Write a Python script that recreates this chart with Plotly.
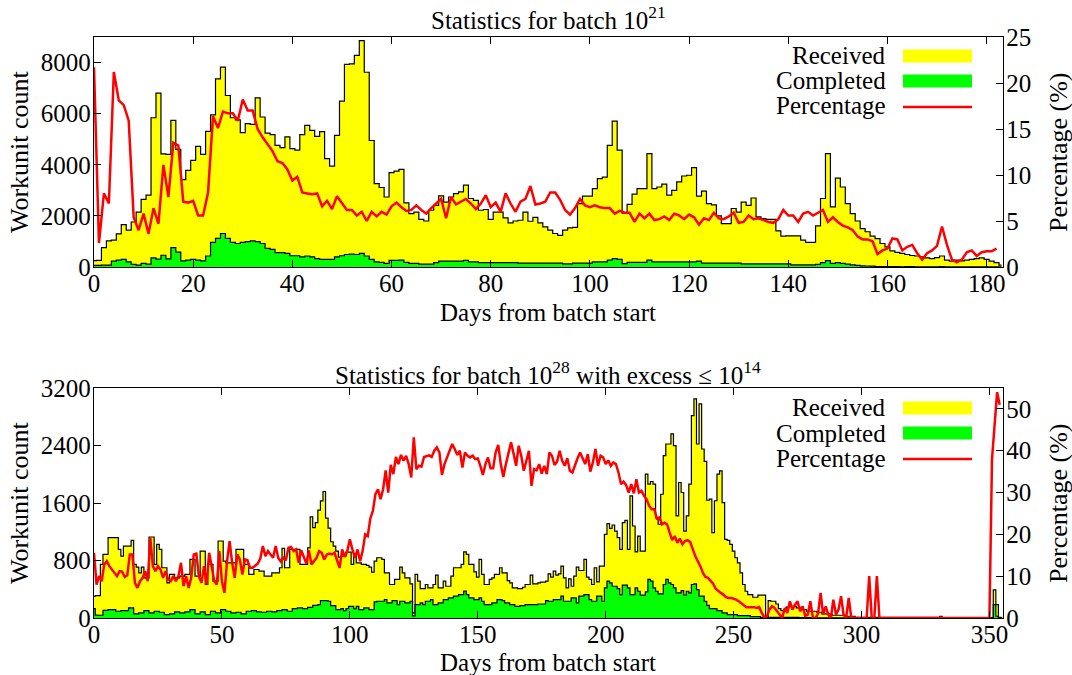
import plotly.graph_objects as go
from plotly.subplots import make_subplots

# ---------------- Batch 10^21 (top) ----------------
top_received = [
    250, 260, 760, 1020, 1050, 1300, 1660, 1440, 1760, 2150,
    2650, 2810, 5840, 6800, 4430, 4410, 5740, 4600, 3420, 3780,
    4170, 4720, 4410, 5310, 5950, 7360, 7820, 6710, 5840, 5760,
    5260, 5610, 5580, 6620, 5870, 5240, 5180, 4760, 4670, 5090,
    4630, 4570, 5180, 5540, 5350, 5110, 5300, 4240, 3950, 5150,
    6490, 7930, 7950, 8280, 8860, 7620, 4950, 3260, 3110, 2740,
    3690, 3750, 3820, 2510, 2090, 2150, 1860, 1800, 2220, 2410,
    2780, 2540, 2740, 2870, 2940, 3200, 2680, 2610, 2220, 2250,
    1860, 2150, 2150, 1920, 1730, 1800, 1830, 2150, 1790, 1940,
    1730, 1570, 1440, 1310, 1240, 1440, 1530, 1550, 2480, 2770,
    2770, 3070, 3460, 3520, 4760, 5710, 4570, 2110, 2450, 2850,
    3070, 3070, 4440, 3070, 3130, 3240, 2810, 3000, 3330, 3560,
    3590, 3890, 2770, 2970, 2480, 2430, 2000, 1700, 1700, 2290,
    2150, 2540, 2410, 2700, 1960, 1890, 1860, 1860, 1410, 1210,
    1220, 1220, 1220, 1050, 960, 960, 1610, 2680, 4440, 2350,
    3480, 3130, 2480, 2090, 1800, 1500, 1380, 1210, 1110, 920,
    790, 630, 570, 530, 490, 450, 430, 400, 360, 330,
    370, 430, 270, 230, 270, 240, 270, 300, 330, 360,
    300, 230, 170, 70,
]
top_completed = [
    60, 60, 70, 70, 230, 270, 300, 200, 100, 70,
    140, 110, 360, 310, 460, 320, 760, 580, 240, 270,
    300, 270, 240, 430, 960, 1120, 1310, 1120, 960, 920,
    960, 990, 1020, 990, 920, 730, 690, 560, 560, 530,
    440, 440, 400, 430, 400, 330, 300, 300, 300, 400,
    440, 490, 500, 490, 530, 430, 300, 200, 180, 140,
    260, 260, 270, 180, 140, 140, 110, 110, 110, 170,
    230, 230, 230, 230, 230, 260, 200, 200, 170, 170,
    170, 170, 170, 170, 170, 170, 150, 150, 150, 150,
    150, 150, 150, 150, 150, 120, 120, 150, 150, 150,
    150, 200, 200, 200, 270, 330, 300, 130, 180, 180,
    180, 180, 270, 200, 200, 200, 200, 200, 200, 200,
    200, 200, 230, 150, 150, 150, 150, 150, 150, 150,
    150, 120, 120, 120, 120, 120, 120, 120, 120, 120,
    120, 80, 80, 80, 80, 80, 100, 170, 250, 140,
    170, 140, 110, 85, 60, 45, 40, 35, 15, 17,
    16, 20, 17, 10, 11, 11, 6, 3, 5, 6,
    8, 19, 6, 2, 1, 2, 4, 5, 4, 6,
    5, 4, 3, 2,
]
top_percentage = [
    21.7, 2.6, 8.0, 6.9, 21.2, 18.1, 17.6, 15.9, 5.4, 4.0,
    5.8, 3.6, 6.4, 4.7, 11.1, 7.6, 13.5, 13.2, 7.1, 7.0,
    7.2, 5.6, 5.6, 8.1, 16.4, 15.1, 16.9, 16.7, 16.7, 15.9,
    18.2, 17.0, 17.0, 15.0, 14.1, 13.4, 12.6, 11.5, 11.3, 10.6,
    9.4, 9.8, 8.1, 8.0, 7.9, 8.0, 6.6, 7.2, 6.3, 7.7,
    6.9, 6.2, 6.2, 5.6, 6.0, 5.0, 6.0, 5.5, 6.0, 5.7,
    6.6, 7.0, 6.5, 6.1, 6.2, 6.7, 6.2, 5.8, 6.4, 6.9,
    7.4, 5.3, 7.6, 6.8, 7.1, 7.4, 6.9, 6.3, 6.9, 7.8,
    6.5, 7.0, 6.0, 8.0, 6.9, 6.0, 7.1, 7.4, 8.8, 6.8,
    6.9, 7.1, 8.1, 8.1, 7.3, 6.2, 5.7, 6.4, 7.4, 6.7,
    6.5, 6.7, 6.5, 6.4, 6.4, 5.8, 6.1, 5.9, 5.9, 4.9,
    5.8, 5.3, 5.8, 5.1, 5.2, 5.5, 5.1, 5.8, 5.6, 5.2,
    5.7, 5.4, 4.6, 5.3, 5.1, 5.9, 5.3, 5.2, 5.5, 5.9,
    4.8, 4.9, 5.6, 5.2, 5.3, 5.1, 4.9, 4.8, 5.2, 6.2,
    5.6, 5.6, 4.9, 5.8, 6.0, 5.6, 5.9, 6.2, 4.9, 5.4,
    4.9, 4.5, 4.3, 4.0, 3.3, 3.0, 3.0, 2.8, 1.4, 1.8,
    2.0, 3.1, 3.0, 1.8, 2.2, 2.4, 1.5, 0.8, 1.5, 1.8,
    2.3, 4.4, 2.4, 0.8, 0.5, 0.8, 1.6, 1.8, 1.2, 1.6,
    1.7, 1.7, 2.0,
]

# ---------------- Batch 10^28, excess <= 10^14 (bottom) ----------------
bot_received = [
    300, 310, 310, 745, 885, 885, 1117, 1117, 1117, 1117,
    954, 861, 1000, 1000, 1000, 1080, 745, 708, 629, 708,
    559, 559, 1127, 1127, 745, 1024, 954, 699, 699, 489,
    606, 606, 559, 559, 582, 582, 606, 606, 815, 815,
    582, 582, 931, 931, 466, 745, 745, 512, 512, 1071,
    1071, 792, 768, 768, 768, 768, 954, 954, 954, 745,
    745, 606, 606, 675, 675, 652, 652, 582, 582, 582,
    629, 629, 629, 699, 968, 699, 699, 954, 954, 954,
    954, 745, 745, 745, 977, 1406, 1257, 1326, 1500, 1629,
    1760, 1390, 1250, 1061, 1000, 931, 847, 861, 861, 917,
    917, 745, 885, 768, 768, 745, 745, 731, 708, 638,
    792, 838, 838, 815, 629, 629, 466, 466, 536, 536,
    708, 629, 559, 559, 475, 70, 606, 512, 410, 410,
    466, 419, 419, 466, 596, 419, 419, 512, 442, 442,
    582, 699, 699, 699, 745, 921, 885, 745, 745, 643,
    568, 815, 606, 466, 466, 536, 559, 606, 606, 699,
    629, 629, 521, 489, 419, 419, 410, 410, 428, 466,
    466, 596, 475, 475, 489, 498, 498, 512, 615, 568,
    652, 596, 615, 722, 559, 419, 545, 442, 582, 708,
    661, 661, 815, 568, 536, 466, 699, 503, 722, 722,
    1164, 1313, 1248, 1294, 1210, 1117, 954, 1326, 1359, 954,
    1699, 1280, 921, 1140, 931, 931, 2001, 1862, 1899, 1862,
    1397, 1304, 1722, 2258, 2421, 2421, 2561, 2397, 1420, 1885,
    1746, 1210, 1420, 1862, 2816, 3049, 2421, 2979, 2351, 2179,
    1638, 1653, 1187, 1631, 2001, 2048, 1606, 1094, 1080, 1024,
    931, 838, 768, 629, 466, 372, 326, 326, 289, 289,
    317, 317, 317, 9, 242, 233, 233, 195, 131, 103,
    103, 150, 163, 163, 163, 140, 140, 117, 117, 94,
    94, 94, 94, 80, 80, 57, 57, 57, 57, 38,
    38, 38, 38, 38, 24, 24, 24, 24, 10, 10,
    10, 10, 10, 10, 10, 10, 10, 10, 10, 10,
    10, 10, 10, 10, 10, 10, 10, 10, 10, 10,
    10, 10, 10, 10, 10, 10, 10, 10, 10, 10,
    10, 24, 5, 5, 5, 5, 5, 5, 5, 5,
    5, 5, 5, 5, 5, 5, 5, 5, 5, 5,
    5, 5, 390, 186, 10, 5,
]
bot_completed = [
    130, 40, 38, 38, 107, 107, 117, 117, 117, 94,
    94, 103, 103, 103, 140, 140, 57, 57, 70, 70,
    103, 103, 70, 70, 94, 94, 80, 80, 47, 47,
    57, 57, 84, 84, 70, 70, 84, 84, 117, 117,
    57, 57, 84, 84, 47, 47, 94, 94, 70, 70,
    117, 117, 94, 94, 70, 70, 80, 80, 57, 57,
    94, 94, 103, 103, 84, 84, 80, 80, 94, 94,
    84, 84, 103, 103, 117, 117, 94, 94, 131, 131,
    140, 140, 131, 131, 149, 149, 177, 177, 186, 242,
    242, 242, 233, 172, 172, 117, 117, 131, 103, 131,
    163, 163, 131, 163, 117, 117, 140, 140, 117, 117,
    224, 233, 233, 233, 256, 210, 210, 242, 242, 186,
    233, 233, 210, 210, 233, 30, 186, 186, 210, 186,
    233, 233, 256, 186, 186, 210, 210, 256, 256, 279,
    279, 303, 303, 326, 326, 373, 326, 279, 279, 256,
    256, 279, 233, 186, 186, 186, 210, 210, 256, 256,
    242, 210, 210, 186, 186, 163, 163, 172, 172, 186,
    186, 186, 186, 186, 195, 195, 195, 242, 233, 233,
    256, 256, 256, 303, 233, 233, 233, 279, 279, 210,
    303, 303, 326, 326, 256, 233, 233, 303, 303, 233,
    419, 512, 489, 442, 442, 410, 326, 456, 456, 419,
    326, 326, 419, 372, 317, 317, 363, 536, 512, 419,
    372, 335, 335, 466, 536, 489, 466, 419, 349, 349,
    382, 317, 372, 349, 466, 475, 396, 303, 303, 233,
    177, 131, 131, 131, 103, 103, 70, 70, 47, 47,
    47, 47, 33, 33, 33, 33, 33, 19, 19, 19,
    19, 10, 10, 10, 10, 10, 10, 10, 10, 10,
    10, 10, 10, 10, 10, 10, 5, 5, 5, 5,
    5, 3, 3, 3, 3, 3, 3, 3, 3, 3,
    3, 1, 1, 1, 1, 1, 1, 1, 1, 1,
    1, 1, 1, 1, 1, 1, 1, 1, 1, 1,
    1, 1, 1, 1, 1, 1, 1, 1, 1, 1,
    1, 1, 1, 1, 1, 1, 1, 1, 1, 1,
    1, 1, 1, 1, 1, 1, 1, 1, 1, 1,
    1, 1, 1, 1, 1, 1, 1, 1, 1, 1,
    1, 1, 186, 24, 2, 0,
]
bot_percentage = [
    15.6, 8.0, 10.0, 8.8, 12.8, 13.6, 12.4, 11.6, 10.6, 10.0,
    11.2, 11.1, 9.8, 10.2, 15.2, 15.2, 8.4, 7.2, 8.8, 9.6,
    11.2, 8.8, 19.2, 12.4, 11.2, 12.4, 11.6, 9.6, 11.2, 9.2,
    8.8, 10.0, 8.8, 10.0, 13.2, 7.6, 10.0, 7.2, 9.6, 15.2,
    15.4, 10.0, 8.4, 12.4, 8.0, 15.6, 12.4, 8.8, 8.0, 16.0,
    8.8, 6.0, 13.6, 18.4, 13.2, 9.6, 15.2, 14.0, 10.4, 14.0,
    13.8, 12.0, 12.0, 12.4, 13.0, 14.2, 17.2, 14.8, 16.0, 15.2,
    14.4, 17.2, 14.4, 13.5, 14.4, 13.8, 16.8, 17.0, 16.0, 16.4,
    13.2, 16.2, 14.4, 13.0, 16.2, 12.8, 13.6, 14.4, 16.0, 15.6,
    14.0, 15.2, 15.4, 15.2, 15.6, 13.6, 12.0, 16.4, 14.6, 16.0,
    18.8, 16.4, 14.4, 16.4, 13.6, 16.0, 20.0, 19.6, 23.8, 25.6,
    29.6, 30.8, 28.4, 30.8, 35.3, 30.0, 36.6, 34.4, 38.5, 36.8,
    39.0, 37.6, 38.8, 36.8, 33.6, 43.2, 35.6, 36.4, 36.2, 38.5,
    38.8, 38.9, 38.5, 40.0, 40.8, 39.6, 34.2, 36.8, 38.4, 40.0,
    41.6, 40.4, 39.0, 40.0, 36.0, 39.6, 38.8, 38.4, 38.8, 38.0,
    38.2, 36.4, 34.2, 36.8, 38.4, 35.8, 35.8, 39.6, 41.4, 36.8,
    33.7, 36.8, 39.6, 42.0, 39.3, 36.4, 41.2, 38.8, 35.2, 37.4,
    40.0, 31.6, 35.6, 35.3, 36.8, 34.5, 36.4, 34.4, 39.6, 38.8,
    36.6, 37.4, 40.0, 37.6, 36.4, 38.2, 35.2, 34.8, 36.8, 38.2,
    39.6, 38.4, 36.8, 39.2, 35.0, 37.2, 40.4, 36.4, 38.8, 38.4,
    36.8, 37.7, 36.4, 37.2, 36.8, 34.8, 32.0, 32.6, 31.8, 30.0,
    32.0, 29.8, 33.2, 30.0, 30.4, 29.2, 28.4, 26.8, 26.0, 26.0,
    23.8, 24.0, 22.4, 22.8, 22.4, 20.4, 18.6, 19.6, 18.0, 19.0,
    17.6, 18.4, 18.6, 18.2, 16.4, 14.8, 13.6, 12.4, 10.8, 9.8,
    9.6, 8.8, 8.2, 7.0, 6.4, 6.0, 5.6, 5.0, 4.8, 4.8,
    4.6, 4.4, 4.0, 3.6, 3.2, 2.6, 2.6, 2.6, 2.6, 2.4,
    2.6, 1.2, 0.2, 0.4, 2.0, 2.8, 2.4, 1.6, 0.8, 0.0,
    2.4, 1.2, 4.0, 2.0, 3.2, 4.0, 1.6, 2.8, 0.5, 0.8,
    4.0, 0.0, 0.0, 1.0, 6.0, 0.8, 2.8, 0.8, 0.0, 4.4,
    0.8, 2.0, 5.2, 0.8, 0.0, 4.8, 0.0, 0.0, 0.0, 0.0,
    0.0, 0.0, 0.0, 10.0, 0.0, 0.0, 10.0, 0.0, 0.0, 0.0,
    0.0, 0.0, 0.0, 0.0, 0.0, 0.0, 0.0, 0.0, 0.0, 0.0,
    0.0, 0.0, 0.0, 0.0, 0.0, 0.0, 0.0, 0.0, 0.0, 0.0,
    0.0, 0.0, 0.0, 0.0, 0.0, 0.0, 0.0, 0.0, 0.0, 0.0,
    0.0, 0.0, 0.0, 0.0, 0.0, 0.0, 0.0, 0.0, 0.0, 0.0,
    0.0, 38.0, 47.0, 54.0, 51.0,
]

top_title = "Statistics for batch 10<sup>21</sup>"
bot_title = "Statistics for batch 10<sup>28</sup> with excess \u2264 10<sup>14</sup>"
x_title = "Days from batch start"
y_title = "Workunit count"
y2_title = "Percentage (%)"
legend_names = ["Received", "Completed", "Percentage"]

FONT = "Liberation Serif"
FS = 25
W, H = 1072, 675
ML, MR, MT, MB = 94, 69, 37, 57
PW, PH = W - ML - MR, H - MT - MB


def px(xp):
    return (xp - ML) / PW


def py(yp):
    return (H - MB - yp) / PH


fig = make_subplots(rows=2, cols=1,
                    specs=[[{"secondary_y": True}], [{"secondary_y": True}]])


def add_panel(row, rec, comp, pct):
    fig.add_trace(go.Scatter(x=list(range(len(rec))), y=rec, mode="lines", fill="tozeroy",
                             fillcolor="#ffff00",
                             line=dict(shape="hvh", color="black", width=1.2),
                             name=legend_names[0], showlegend=False),
                  row=row, col=1, secondary_y=False)
    fig.add_trace(go.Scatter(x=list(range(len(comp))), y=comp, mode="lines",
                             fill="tozeroy", fillcolor="#00ff00",
                             line=dict(shape="hvh", color="black", width=1.2),
                             name=legend_names[1], showlegend=False),
                  row=row, col=1, secondary_y=False)
    fig.add_trace(go.Scatter(x=list(range(len(pct))), y=pct, mode="lines",
                             line=dict(color="#ff0000", width=2.5),
                             name=legend_names[2], showlegend=False),
                  row=row, col=1, secondary_y=True)


add_panel(1, top_received, top_completed, top_percentage)
add_panel(2, bot_received, bot_completed, bot_percentage)

axis_common = dict(showgrid=False, zeroline=False, showline=True,
                   linecolor="black", linewidth=1.3, ticks="inside",
                   tickcolor="black", ticklen=7, tickwidth=1.1,
                   tickfont=dict(family=FONT, size=FS, color="black"))

top_dom = [py(267), 1.0]
bot_dom = [0.0, py(388)]

fig.update_layout(
    width=W, height=H, plot_bgcolor="white", paper_bgcolor="white",
    margin=dict(l=ML, r=MR, t=MT, b=MB, autoexpand=False),
    showlegend=False,
    xaxis=dict(axis_common, range=[0, 183.3], dtick=20, tick0=0, mirror="ticks",
               domain=[0, 1], anchor="y", ticklabelstandoff=-6),
    yaxis=dict(axis_common, range=[0, 9000], tickvals=[0, 2000, 4000, 6000, 8000],
               domain=top_dom, anchor="x", ticklabelstandoff=-3),
    yaxis2=dict(axis_common, range=[0, 25], dtick=5, side="right",
                overlaying="y", anchor="x", ticklabelstandoff=-3),
    xaxis2=dict(axis_common, range=[0, 355.3], dtick=50, tick0=0, mirror="ticks",
                domain=[0, 1], anchor="y3", ticklabelstandoff=-6),
    yaxis3=dict(axis_common, range=[0, 3200], dtick=800,
                domain=bot_dom, anchor="x2", ticklabelstandoff=-3),
    yaxis4=dict(axis_common, range=[0, 55], tickvals=[0, 10, 20, 30, 40, 50],
                side="right", overlaying="y3", anchor="x2", ticklabelstandoff=-3),
)

ann = []
shapes = []


def text(x, y, s, angle=0, xanchor="center", size=FS):
    ann.append(dict(xref="paper", yref="paper", x=px(x), y=py(y), text=s,
                    showarrow=False, textangle=angle, xanchor=xanchor,
                    yanchor="middle",
                    font=dict(family=FONT, size=size, color="black")))


text(548, 18, top_title)
text(548, 312, x_title)
text(19, 152, y_title, angle=-90, size=26)
text(1058, 152, y2_title, angle=-90, size=26)
text(548, 373, bot_title)
text(548, 662, x_title)
text(19, 503, y_title, angle=-90, size=26)
text(1058, 503, y2_title, angle=-90, size=26)


def legend(y_rows):
    colors = ["#ffff00", "#00ff00"]
    for i, (name, yc) in enumerate(zip(legend_names, y_rows)):
        text(888, yc, name, xanchor="right")
        if i < 2:
            shapes.append(dict(type="rect", xref="paper", yref="paper",
                               x0=px(903), x1=px(972), y0=py(yc - 6.5), y1=py(yc + 6.5),
                               fillcolor=colors[i], line=dict(width=0)))
        else:
            shapes.append(dict(type="line", xref="paper", yref="paper",
                               x0=px(903), x1=px(972), y0=py(yc + 1), y1=py(yc + 1),
                               line=dict(color="#ff0000", width=2.5)))


legend([56, 81, 106])
legend([408, 433, 458])

fig.update_layout(annotations=ann, shapes=shapes)
fig.write_html("out.html", config={"displayModeBar": False},
               post_script="document.body.style.margin='0';document.body.style.padding='0';")
